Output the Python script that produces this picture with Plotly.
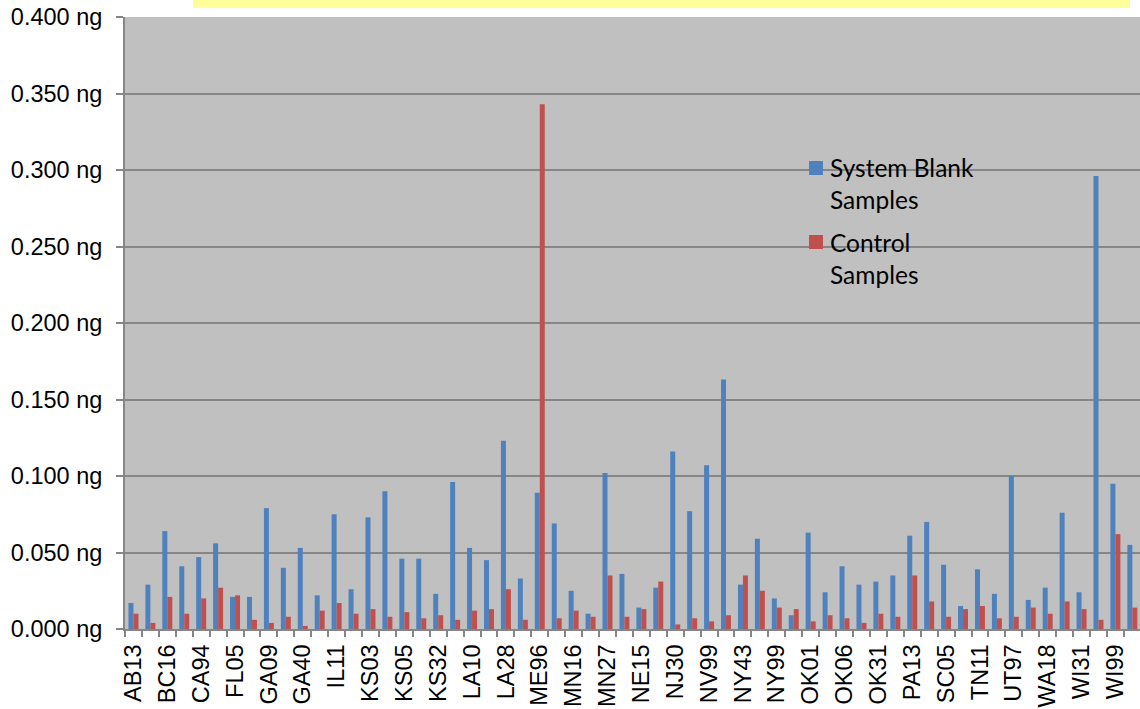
import plotly.graph_objects as go

# Sites labelled on the x axis (every other site carries a label)
labeled_sites = [
    "AB13", "BC16", "CA94", "FL05", "GA09", "GA40", "IL11", "KS03", "KS05", "KS32",
    "LA10", "LA28", "ME96", "MN16", "MN27", "NE15", "NJ30", "NV99", "NY43", "NY99",
    "OK01", "OK06", "OK31", "PA13", "SC05", "TN11", "UT97", "WA18", "WI31", "WI99",
]

# Mercury mass per sample (ng), one value per site, in site order
system_blank_ng = [
    0.017, 0.029, 0.064, 0.041, 0.047, 0.056, 0.021, 0.021, 0.079, 0.040,
    0.053, 0.022, 0.075, 0.026, 0.073, 0.090, 0.046, 0.046, 0.023, 0.096,
    0.053, 0.045, 0.123, 0.033, 0.089, 0.069, 0.025, 0.010, 0.102, 0.036,
    0.014, 0.027, 0.116, 0.077, 0.107, 0.163, 0.029, 0.059, 0.020, 0.009,
    0.063, 0.024, 0.041, 0.029, 0.031, 0.035, 0.061, 0.070, 0.042, 0.015,
    0.039, 0.023, 0.100, 0.019, 0.027, 0.076, 0.024, 0.296, 0.095, 0.055,
]
control_ng = [
    0.010, 0.004, 0.021, 0.010, 0.020, 0.027, 0.022, 0.006, 0.004, 0.008,
    0.002, 0.012, 0.017, 0.010, 0.013, 0.008, 0.011, 0.007, 0.009, 0.006,
    0.012, 0.013, 0.026, 0.006, 0.343, 0.007, 0.012, 0.008, 0.035, 0.008,
    0.013, 0.031, 0.003, 0.007, 0.005, 0.009, 0.035, 0.025, 0.014, 0.013,
    0.005, 0.009, 0.007, 0.004, 0.010, 0.008, 0.035, 0.018, 0.008, 0.013,
    0.015, 0.007, 0.008, 0.014, 0.010, 0.018, 0.013, 0.006, 0.062, 0.014,
]

y_ticks = [0.0, 0.05, 0.10, 0.15, 0.20, 0.25, 0.30, 0.35, 0.40]
y_tick_text = [f"{v:.3f} ng" for v in y_ticks]

series_names = ["System Blank<br>Samples", "Control<br>Samples"]
series_colors = ["#4F81BD", "#C0504D"]

site_index = list(range(len(system_blank_ng)))
label_index = site_index[::2]

W, H = 1140, 709
ML, MT, MB = 125, 17, 80
plot_w = W - ML
plot_h = H - MT - MB
cat_px = 16.93  # width of one site slot
x_end = -0.5 + plot_w / cat_px


def px_x(px):
    return (px - ML) / plot_w


def px_y(py):
    return (H - MB - py) / plot_h


fig = go.Figure()
for vals, name, col in zip([system_blank_ng, control_ng], series_names, series_colors):
    fig.add_trace(go.Bar(
        x=site_index, y=vals, name=name,
        marker=dict(color=col, line=dict(width=0)),
    ))

axis_grey = "#868686"
fig.update_layout(
    width=W, height=H,
    margin=dict(l=ML, r=0, t=MT, b=MB, pad=0),
    paper_bgcolor="white",
    plot_bgcolor="#C0C0C0",
    barmode="group",
    bargap=0.41,
    bargroupgap=0,
    font=dict(family="Liberation Sans, Arial, sans-serif", color="black"),
    showlegend=False,
    xaxis=dict(
        range=[-0.5, x_end],
        tickmode="array", tickvals=label_index, ticktext=labeled_sites,
        tickangle=-90, tickfont=dict(size=23.5),
        ticks="", showgrid=False, zeroline=False,
        showline=True, linecolor=axis_grey, linewidth=2,
        minor=dict(tick0=-0.5, dtick=1, ticks="outside", ticklen=6,
                   tickcolor=axis_grey, tickwidth=2, showgrid=False),
        ticklabelstandoff=4,
    ),
    yaxis=dict(
        range=[0, 0.4],
        tickmode="array", tickvals=y_ticks, ticktext=y_tick_text,
        tickfont=dict(size=23.5),
        ticks="outside", ticklen=7, tickcolor=axis_grey, tickwidth=2,
        showgrid=True, gridcolor=axis_grey, gridwidth=2,
        zeroline=False,
        showline=True, linecolor=axis_grey, linewidth=2,
        ticklabelstandoff=9,
    ),
)

# Legend: colour swatch plus two-line label for each series
legend_rows = [(161, 151), (235, 226)]  # (swatch top px, text top px)
for (sq_top, txt_top), name, col in zip(legend_rows, series_names, series_colors):
    fig.add_shape(
        type="rect", xref="paper", yref="paper", layer="above",
        x0=px_x(809), x1=px_x(823), y0=px_y(sq_top + 14), y1=px_y(sq_top),
        fillcolor=col, line=dict(width=0),
    )
    fig.add_annotation(
        xref="paper", yref="paper", x=px_x(828), y=px_y(txt_top),
        xanchor="left", yanchor="top", align="left", showarrow=False,
        text=name, font=dict(family="Lato, Carlito, sans-serif", size=24.5, color="black"),
    )

# Yellow title banner running along the top edge
fig.add_shape(
    type="rect", xref="paper", yref="paper", layer="above",
    x0=px_x(193), x1=px_x(1130), y0=px_y(8), y1=px_y(-2),
    fillcolor="#FFFF99", line=dict(width=0),
)

fig.write_html("out.html")
